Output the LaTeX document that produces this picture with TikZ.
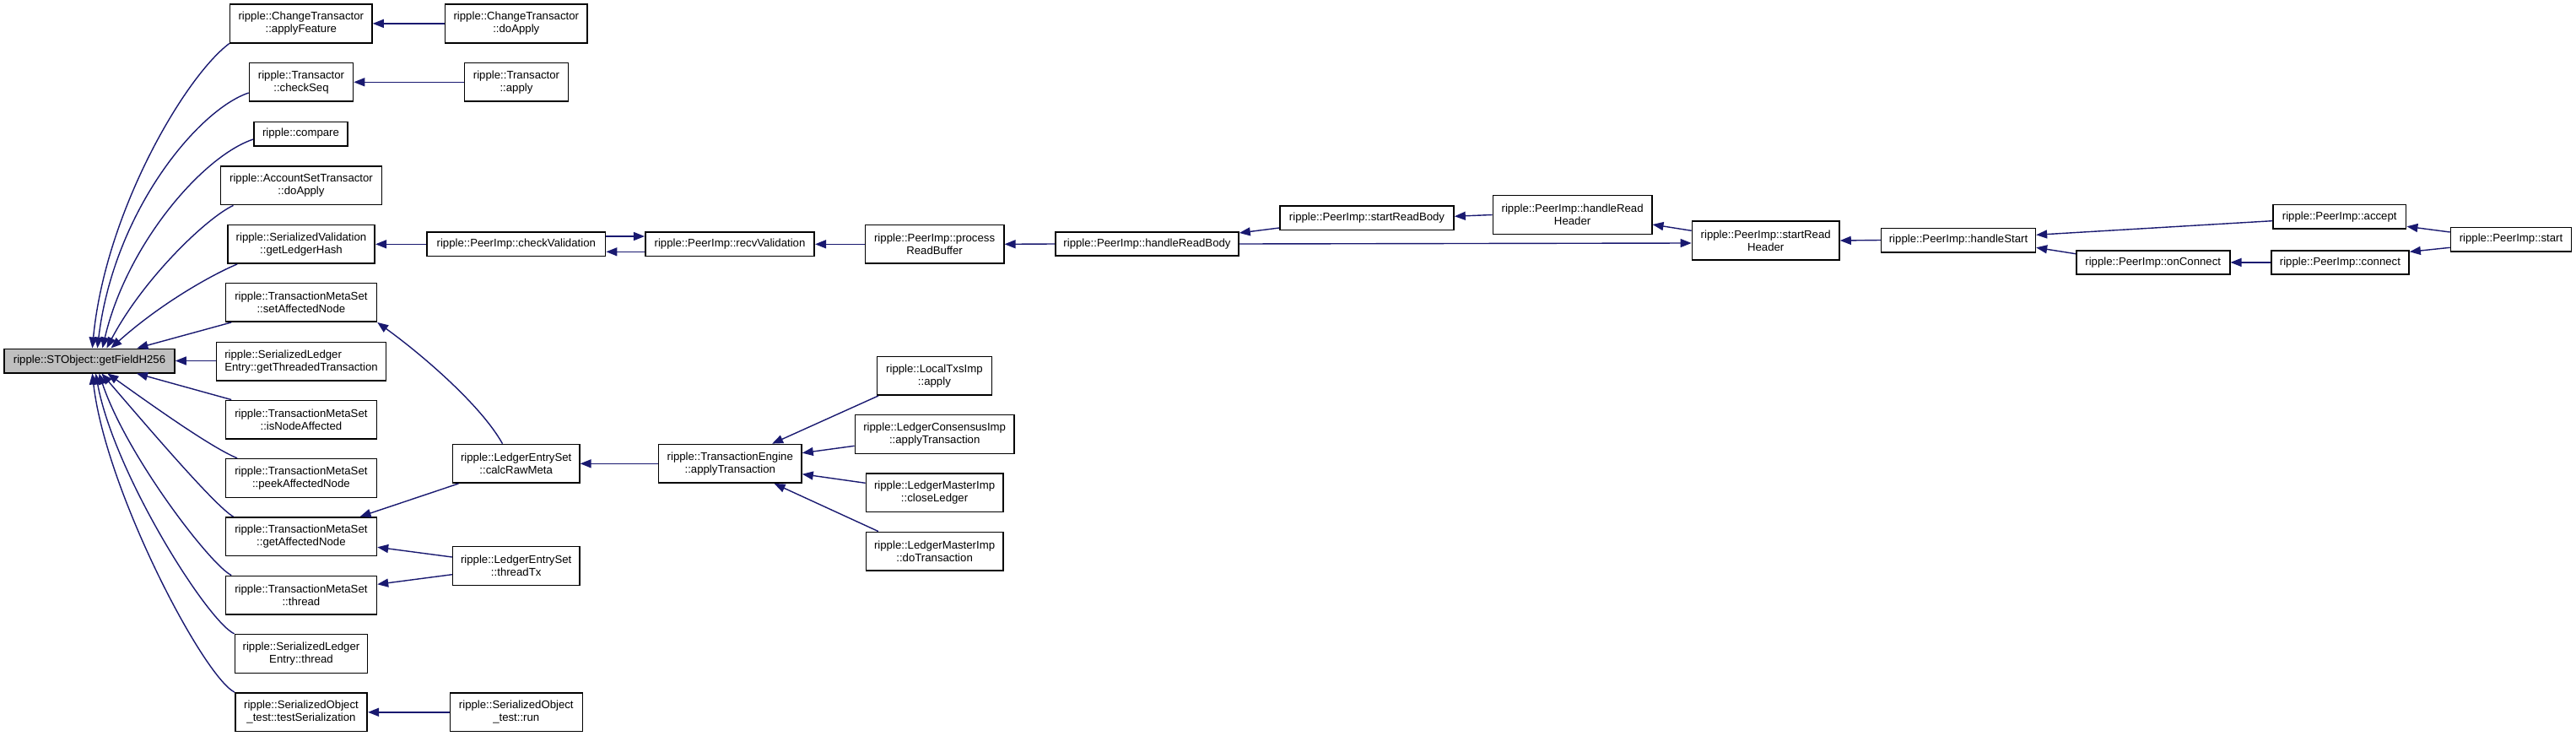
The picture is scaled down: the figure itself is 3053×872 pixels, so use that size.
\documentclass[tikz,border=0pt]{standalone}
\usepackage{fontspec}
\setmainfont{Liberation Sans}
\usetikzlibrary{arrows.meta}
\definecolor{edgeblue}{HTML}{191970}
\definecolor{graybox}{HTML}{BFBFBF}
\newcommand\nf{\fontsize{13.2}{14.8}\selectfont}
\begin{document}
\begin{tikzpicture}[x=1pt,y=-1pt,
  box/.style={draw=black, line width=1.6pt, inner sep=0pt, minimum height=45.7pt, align=center, font=\nf},
  one/.style={minimum height=28.4pt},
  edge/.style={draw=edgeblue, line width=1.4pt, -{Triangle[length=13pt,width=10pt]}}]
\path[use as bounding box] (0,0) rectangle (3053,872);
% nodes
\node[box,one,fill=graybox,minimum width=202pt] (stobj) at (106,427.5) {ripple::STObject::getFieldH256};
\node[box,minimum width=168.4pt] (af) at (356.8,27.9) {ripple::ChangeTransactor\\::applyFeature};
\node[box,minimum width=168.4pt] (ctda) at (611.8,27.9) {ripple::ChangeTransactor\\::doApply};
\node[box,minimum width=123pt] (cs) at (357,97.3) {ripple::Transactor\\::checkSeq};
\node[box,minimum width=123pt] (tap) at (612,97.3) {ripple::Transactor\\::apply};
\node[box,one,minimum width=111pt] (cmp) at (356.5,158.5) {ripple::compare};
\node[box,minimum width=191pt] (asd) at (357,219.8) {ripple::AccountSetTransactor\\::doApply};
\node[box,minimum width=174.5pt] (glh) at (357,289.3) {ripple::SerializedValidation\\::getLedgerHash};
\node[box,one,minimum width=211.5pt] (cv) at (611.8,289.3) {ripple::PeerImp::checkValidation};
\node[box,minimum width=179pt] (san) at (356.9,358.3) {ripple::TransactionMetaSet\\::setAffectedNode};
\node[box,minimum width=201.3pt,align=left] (gtt) at (357,428.2) {ripple::SerializedLedger\\Entry::getThreadedTransaction};
\node[box,minimum width=179pt] (ina) at (356.9,497.2) {ripple::TransactionMetaSet\\::isNodeAffected};
\node[box,minimum width=179pt] (pan) at (356.9,566.5) {ripple::TransactionMetaSet\\::peekAffectedNode};
\node[box,minimum width=179pt] (gan) at (356.9,635.8) {ripple::TransactionMetaSet\\::getAffectedNode};
\node[box,minimum width=179pt] (mth) at (356.9,705.2) {ripple::TransactionMetaSet\\::thread};
\node[box,minimum width=157.3pt] (slt) at (357,774.5) {ripple::SerializedLedger\\Entry::thread};
\node[box,minimum width=156.5pt] (tser) at (357,843.8) {ripple::SerializedObject\\\_test::testSerialization};
\node[box,minimum width=150.2pt] (crm) at (611.7,549.3) {ripple::LedgerEntrySet\\::calcRawMeta};
\node[box,minimum width=150.2pt] (ttx) at (611.7,670.5) {ripple::LedgerEntrySet\\::threadTx};
\node[box,minimum width=157pt] (run) at (611.8,843.8) {ripple::SerializedObject\\\_test::run};
\node[box,one,minimum width=200.5pt] (rv) at (865,289.3) {ripple::PeerImp::recvValidation};
\node[box,minimum width=169.4pt] (te) at (865.3,549.3) {ripple::TransactionEngine\\::applyTransaction};
\node[box,minimum width=164.3pt] (prb) at (1107.6,289.3) {ripple::PeerImp::process\\ReadBuffer};
\node[box,minimum width=136.2pt] (ltx) at (1107.4,445.3) {ripple::LocalTxsImp\\::apply};
\node[box,minimum width=188.7pt] (lca) at (1107.7,514.5) {ripple::LedgerConsensusImp\\::applyTransaction};
\node[box,minimum width=162.3pt] (cl) at (1107.6,583.8) {ripple::LedgerMasterImp\\::closeLedger};
\node[box,minimum width=162.3pt] (dt) at (1107.6,653.2) {ripple::LedgerMasterImp\\::doTransaction};
\node[box,one,minimum width=217pt] (hrb) at (1359.5,289) {ripple::PeerImp::handleReadBody};
\node[box,one,minimum width=206pt] (srb) at (1620,258.3) {ripple::PeerImp::startReadBody};
\node[box,minimum width=188.2pt] (hrh) at (1863.6,254.5) {ripple::PeerImp::handleRead\\Header};
\node[box,minimum width=174.5pt] (srh) at (2092.7,285) {ripple::PeerImp::startRead\\Header};
\node[box,one,minimum width=182.7pt] (hs) at (2321,284.5) {ripple::PeerImp::handleStart};
\node[box,one,minimum width=157.8pt] (acc) at (2772.7,256.8) {ripple::PeerImp::accept};
\node[box,one,minimum width=182pt] (onc) at (2551.7,310.9) {ripple::PeerImp::onConnect};
\node[box,one,minimum width=163.3pt] (con) at (2773.4,310.9) {ripple::PeerImp::connect};
\node[box,one,minimum width=143pt] (st) at (2976,283.5) {ripple::PeerImp::start};
% edges into STObject (from above)
\draw[edge] (af.south west) .. controls (220,90) and (125,250) .. ([xshift=105.2pt]stobj.north west);
\draw[edge] ([yshift=-12.7pt]cs.west) .. controls (235,130) and (135,250) .. ([xshift=111.2pt]stobj.north west);
\draw[edge] ([yshift=-6.5pt]cmp.west) .. controls (240,185) and (150,290) .. ([xshift=117.2pt]stobj.north west);
\draw[edge] ([xshift=15.8pt]asd.south west) .. controls (245,258) and (170,330) .. ([xshift=122.2pt]stobj.north west);
\draw[edge] ([xshift=12.2pt]glh.south west) .. controls (250,326) and (190,360) .. ([xshift=127.2pt]stobj.north west);
\draw[edge] ([xshift=7.6pt]san.south west) -- ([xshift=158.2pt]stobj.north west);
\draw[edge] (gtt.west |- stobj.east) -- (stobj.east);
% edges into STObject (from below)
\draw[edge] ([xshift=7.6pt]ina.north west) -- ([xshift=157.8pt]stobj.south west);
\draw[edge] ([xshift=14.6pt]pan.north west) .. controls (250,530) and (180,480) .. ([xshift=123.2pt]stobj.south west);
\draw[edge] ([xshift=10pt]gan.north west) .. controls (255,600) and (170,500) .. ([xshift=116.2pt]stobj.south west);
\draw[edge] ([xshift=7.6pt]mth.north west) .. controls (250,670) and (150,540) .. ([xshift=113.2pt]stobj.south west);
\draw[edge] (slt.north west) .. controls (245,735) and (135,560) .. ([xshift=109.2pt]stobj.south west);
\draw[edge] (tser.north west) .. controls (240,800) and (125,580) .. ([xshift=105.2pt]stobj.south west);
% column 2
\draw[edge] (ctda.west) -- (af.east);
\draw[edge] (tap.west) -- (cs.east);
\draw[edge] (cv.west) -- (glh.east);
\draw[edge] ([xshift=-16.2pt]crm.north) .. controls (570,480) and (500,420) .. (san.south east);
\draw[edge] ([xshift=7.7pt]crm.south west) -- ([xshift=-20.6pt]gan.north east);
\draw[edge] ([yshift=10.5pt]ttx.west) -- ([yshift=-12.5pt]gan.east);
\draw[edge] ([yshift=-10.2pt]ttx.west) -- ([yshift=12.9pt]mth.east);
\draw[edge] (run.west) -- (tser.east);
% validation chain
\draw[edge] ([yshift=9.3pt]cv.east) -- ([yshift=9.3pt]rv.west);
\draw[edge] ([yshift=-9pt]rv.west) -- ([yshift=-9pt]cv.east);
\draw[edge] (prb.west) -- (rv.east);
\draw[edge] (hrb.west) -- (prb.east);
\draw[edge] ([yshift=-11.7pt]srb.west) -- ([yshift=-2pt]hrb.north east);
\draw[edge] (hrh.west) -- ([yshift=2pt]srb.east);
\draw[edge] ([yshift=11.7pt]srh.west) -- ([yshift=-11.5pt]hrh.east);
\draw[edge] (hrb.east) -- ([yshift=-3pt]srh.west);
\draw[edge] (hs.west) -- (srh.east);
\draw[edge] ([yshift=-4.9pt]acc.west) -- ([yshift=6.2pt]hs.east);
\draw[edge] ([yshift=10.2pt]onc.west) -- ([yshift=-8.8pt]hs.east);
\draw[edge] ([yshift=8.5pt]st.west) -- ([yshift=-11.5pt]acc.east);
\draw[edge] ([yshift=-9.8pt]st.west) -- ([yshift=12.6pt]con.east);
\draw[edge] (con.west) -- (onc.east);
% transaction engine
\draw[edge] (te.west) -- (crm.east);
\draw[edge] ([xshift=2.5pt]ltx.south west) -- ([xshift=-35.7pt]te.north east);
\draw[edge] ([yshift=-13.8pt]lca.west) -- ([yshift=12.6pt]te.east);
\draw[edge] ([yshift=11.5pt]cl.west) -- ([yshift=-12.4pt]te.east);
\draw[edge] ([xshift=15.3pt]dt.north west) -- ([xshift=-33.2pt]te.south east);
\end{tikzpicture}
\end{document}
